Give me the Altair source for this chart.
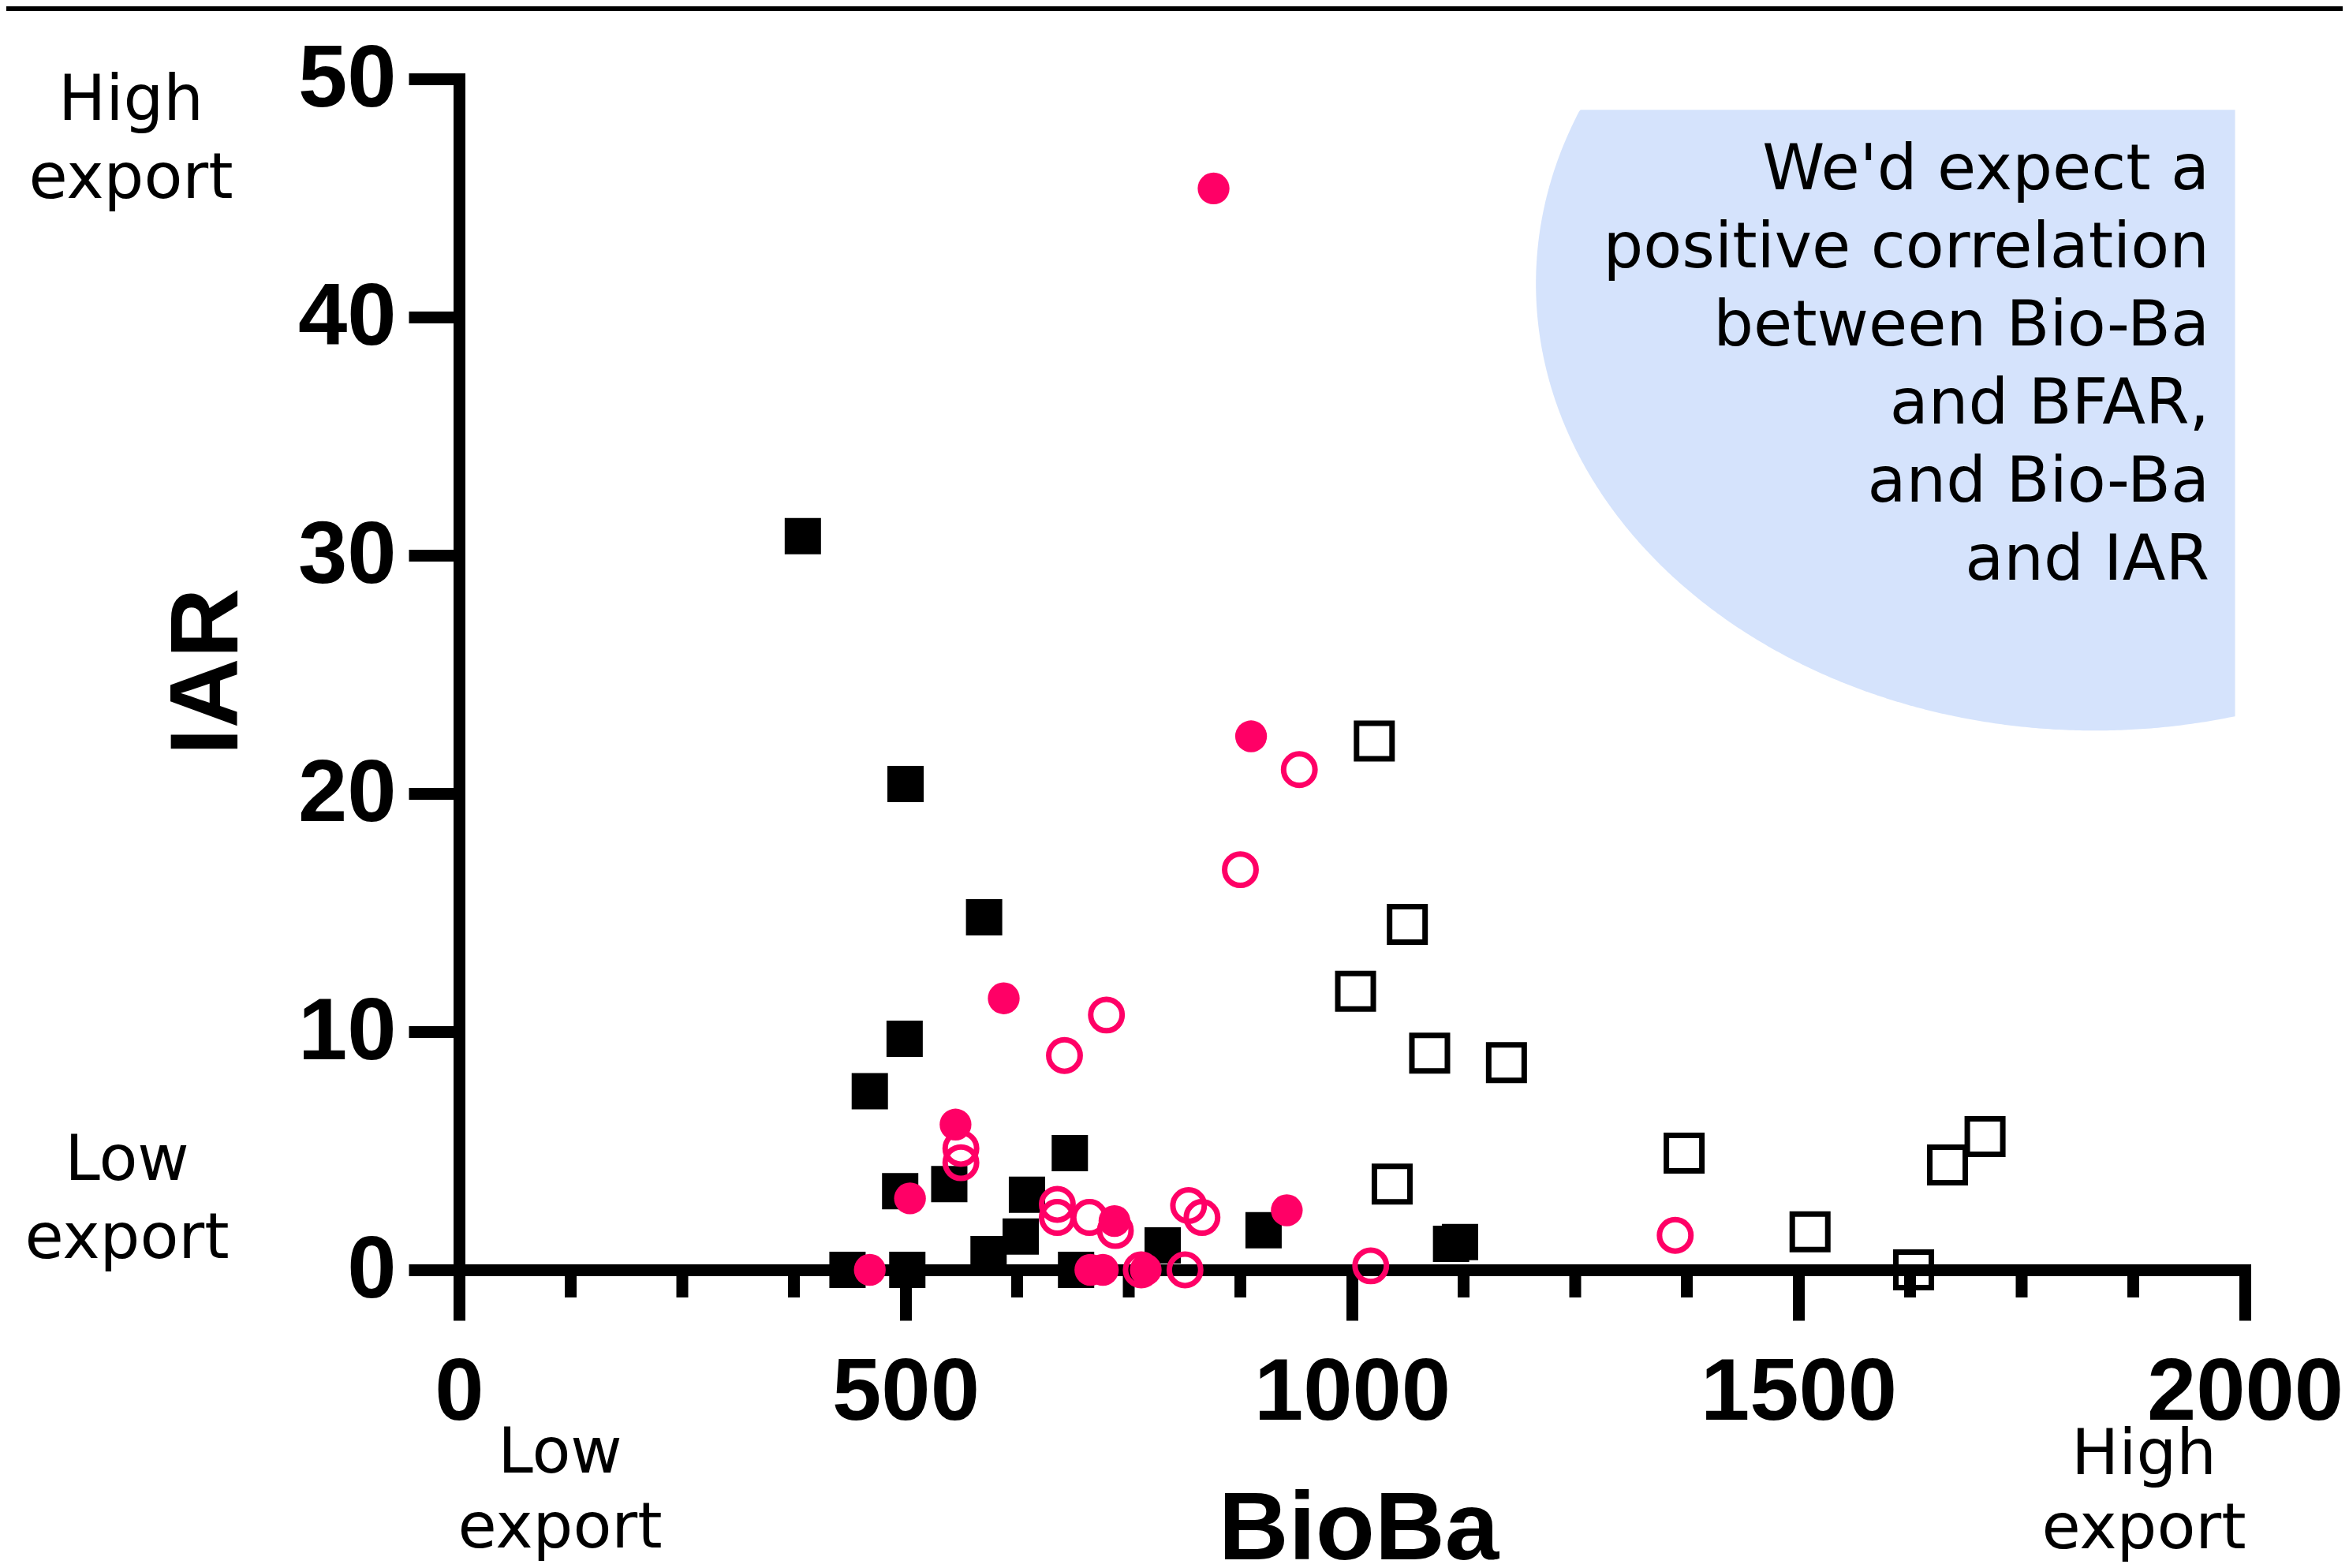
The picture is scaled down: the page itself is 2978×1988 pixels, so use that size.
import altair as alt
import pandas as pd
import numpy as np

# ---------------- data ----------------
filled_sq_x = [385, 500, 588, 499, 460, 684, 494, 549, 636, 629, 593, 788, 901, 1111, 1121, 435, 502, 691]
filled_sq_y = [30.8, 20.4, 14.8, 9.7, 7.5, 4.9, 3.3, 3.6, 3.15, 1.4, 0.66, 1.03, 1.66, 1.09, 1.17, 0, 0, 0]

open_sq_x = [1025, 1062, 1004, 1087, 1173, 1045, 1372, 1513, 1629, 1667, 1709]
open_sq_y = [22.2, 14.5, 11.7, 9.1, 8.7, 3.6, 4.9, 1.6, 0, 4.4, 5.6]

filled_ci_x = [845, 887, 610, 556, 505, 460, 734, 927, 707, 721, 769]
filled_ci_y = [45.4, 22.4, 11.4, 6.1, 3.0, 0, 2.05, 2.5, 0, 0, 0]

open_ci_x = [941, 875, 725, 678, 562, 562, 670, 670, 706, 735, 817, 832, 764, 813, 1021, 1362]
open_ci_y = [21.0, 16.8, 10.7, 9.0, 5.1, 4.5, 2.75, 2.2, 2.2, 1.65, 2.7, 2.2, 0, 0, 0.17, 1.45]

x_major = [0, 500, 1000, 1500, 2000]
x_minor = [125, 250, 375, 625, 750, 875, 1125, 1250, 1375, 1625, 1750, 1875]
y_major = [0, 10, 20, 30, 40, 50]

note_lines = ["We'd expect a", "positive correlation", "between Bio-Ba",
              "and BFAR,", "and Bio-Ba", "and IAR"]

# ---------------- layout ----------------
W, H = 2264, 1510
PINK = "#FF0066"
BLUE = "#D5E3FC"
LABEL_FONT = "Liberation Sans"
NOTE_FONT = "DejaVu Sans"

xs = alt.Scale(domain=[0, 2000], nice=False, zero=False)
ys = alt.Scale(domain=[0, 50], nice=False, zero=False)

x_axis = alt.Axis(
    values=x_major, format="d", grid=False, title="BioBa",
    domainColor="black", domainWidth=15, domainCap="square",
    tickColor="black", tickWidth=15, tickSize=64, tickCap="butt",
    labelFont=LABEL_FONT, labelFontWeight="bold", labelFontSize=112,
    labelColor="black", labelPadding=37, labelFlush=False, labelOverlap=False,
    labelLimit=1000,
    titleFont=LABEL_FONT, titleFontWeight="bold", titleFontSize=123,
    titleColor="black", titleX=1140, titleY=366, titleLimit=2000,
    titleBaseline="alphabetic", titleAlign="center",
)
y_axis = alt.Axis(
    values=y_major, format="d", grid=False, title="IAR",
    domainColor="black", domainWidth=15, domainCap="square",
    tickColor="black", tickWidth=15, tickSize=64, tickCap="butt",
    labelFont=LABEL_FONT, labelFontWeight="bold", labelFontSize=112,
    labelColor="black", labelPadding=16, labelFlush=False, labelOverlap=False,
    labelLimit=1000,
    titleFont=LABEL_FONT, titleFontWeight="bold", titleFontSize=123,
    titleColor="black", titleAngle=270, titleX=-282, titleY=751, titleLimit=2000,
    titleBaseline="alphabetic", titleAlign="center",
)

X = alt.X("x:Q", scale=xs, axis=x_axis)
Y = alt.Y("y:Q", scale=ys, axis=y_axis)

# decorative shaded ellipse (clipped) in data space
cx, cy, a, b = 1832.0, 41.4, 626.0, 18.76
ytop, xright = 48.7, 1989.0
theta = np.linspace(np.pi, np.arccos((xright - cx) / a), 300)
ell = pd.DataFrame({
    "x": cx + a * np.cos(theta),
    "y": cy - b * np.sin(theta),
    "hi": np.minimum(cy + b * np.sin(theta), ytop),
})

blob = alt.Chart(ell).mark_area(color=BLUE, opacity=1, strokeWidth=0).encode(
    x=X, y=Y, y2="hi:Q",
)

one = pd.DataFrame({"k": [0]})

top_bar = alt.Chart(one).mark_rule(color="black", strokeWidth=6).encode(
    x=alt.value(-574), x2=alt.value(2978 - 16 - 574), y=alt.value(-89)
)

minor = alt.Chart(pd.DataFrame({"x": x_minor})).mark_rule(
    color="black", strokeWidth=15
).encode(
    x=X,
    y=alt.value(H),
    y2=alt.value(H + 35),
)

fsq = alt.Chart(pd.DataFrame({"x": filled_sq_x, "y": filled_sq_y})).mark_point(
    shape="square", filled=True, size=2116, color="black", opacity=1
).encode(x=X, y=Y)

osq = alt.Chart(pd.DataFrame({"x": open_sq_x, "y": open_sq_y})).mark_point(
    shape="square", filled=False, size=2025, color="black", strokeWidth=7, opacity=1
).encode(x=X, y=Y)

fci = alt.Chart(pd.DataFrame({"x": filled_ci_x, "y": filled_ci_y})).mark_point(
    shape="circle", filled=True, size=1626, color=PINK, opacity=1
).encode(x=X, y=Y)

oci = alt.Chart(pd.DataFrame({"x": open_ci_x, "y": open_ci_y})).mark_point(
    shape="circle", filled=False, size=1590, color=PINK, strokeWidth=7, opacity=1
).encode(x=X, y=Y)


def note(lines, px, py, align="center", lh=99):
    return alt.Chart(one).mark_text(
        text=lines, font=NOTE_FONT, fontSize=80, color="black",
        align=align, baseline="alphabetic", lineHeight=lh,
    ).encode(x=alt.value(px), y=alt.value(py))


notes = [
    note(["High", "export"], -416, 52),
    note(["Low", "export"], -421, 1396),
    note(["Low", "export"], 128, 1767, lh=95),
    note(["High", "export"], 2136, 1769, lh=94),
    note(note_lines, 2219, 140, align="right"),
]

chart = alt.layer(
    blob, top_bar, minor, fsq, osq, fci, oci, *notes
).properties(
    width=W, height=H,
    padding={"left": 574, "top": 92, "right": 124, "bottom": 370},
    autosize=alt.AutoSizeParams(type="none"),
    background="white",
).configure_view(strokeWidth=0)

chart.save("out.html", embed_options={"renderer": "svg", "actions": False})
